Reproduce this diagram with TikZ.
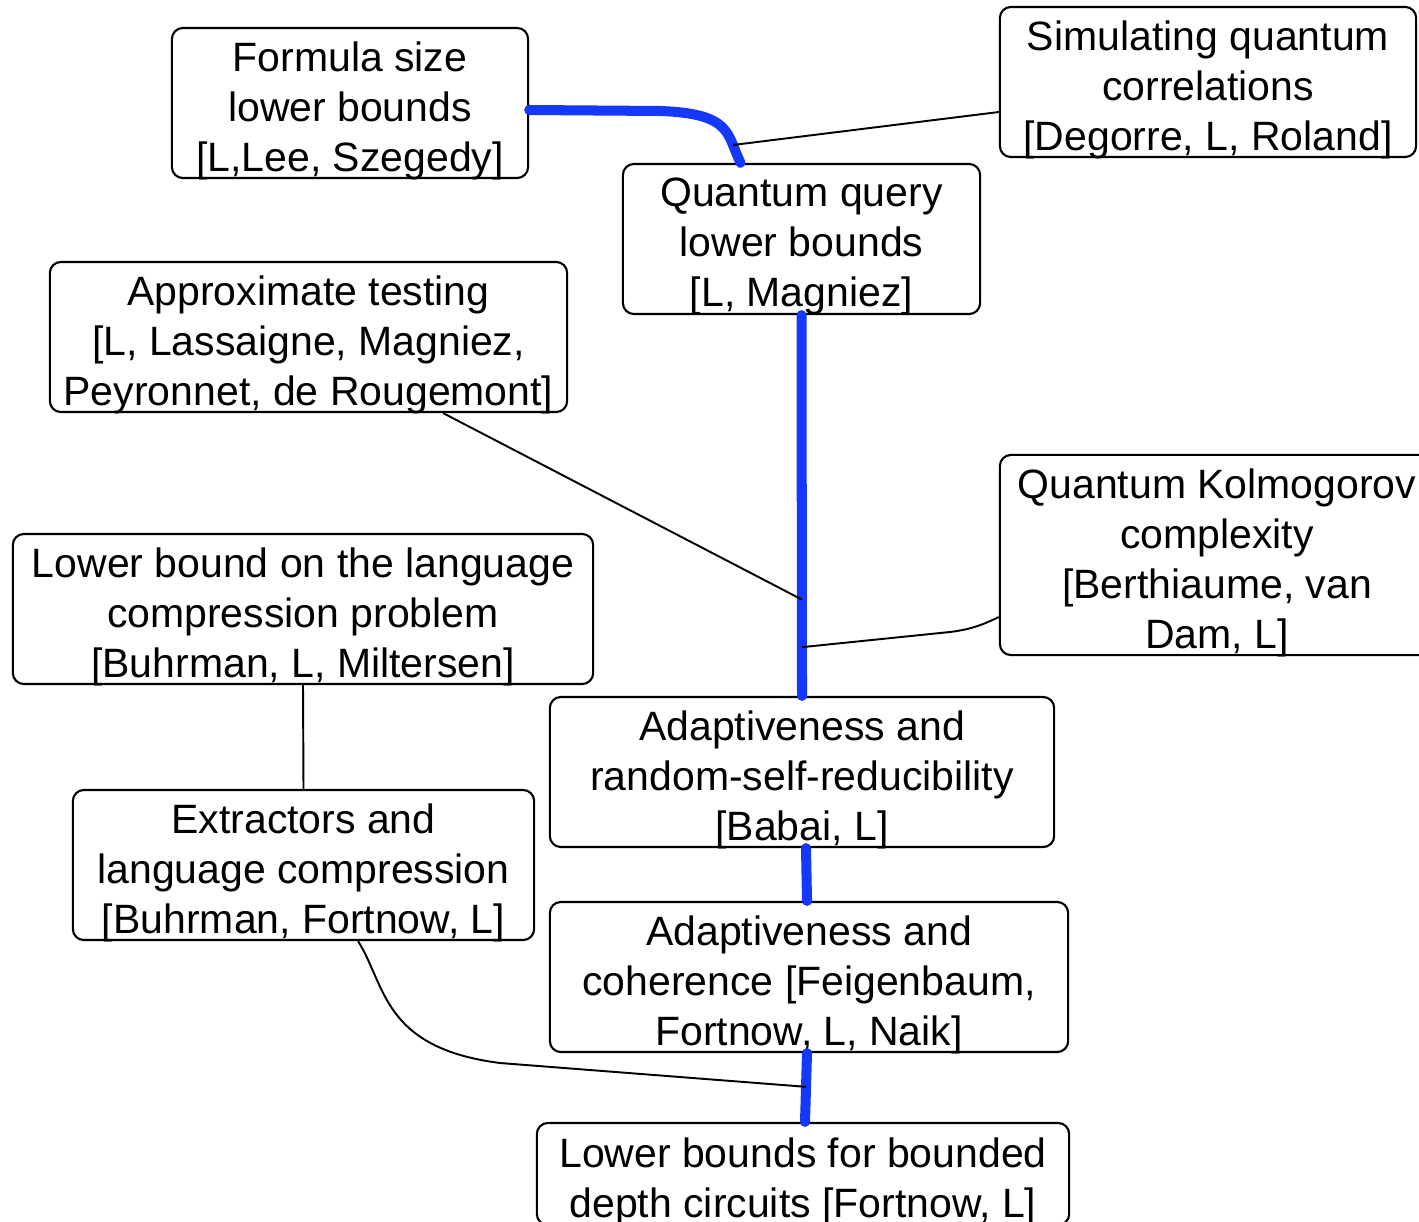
\documentclass[tikz,border=0pt]{standalone}
\usepackage{fontspec}
\setmainfont{Liberation Sans}
\definecolor{linkblue}{RGB}{22,56,250}
\tikzset{
  card/.style n args={2}{draw, line width=0.6pt, rounded corners=0.11cm,
    minimum width=#1, minimum height=#2, inner sep=0pt},
  txt/.style={align=center, inner sep=0pt,
    font=\fontsize{11.65}{14.23}\selectfont, yshift=-0.075cm},
  thin/.style={line width=0.55pt},
  hot/.style={draw=linkblue, line width=2.85pt, line cap=round},
}
\begin{document}
\begin{tikzpicture}[x=0.01cm, y=-0.01cm]
\clip (0,0) rectangle (1419,1222);

% boxes
\node[card={3.56cm}{1.5cm}] (fsz) at (350,103) {};
\node[txt] (fsz-t) at (fsz.center) {Formula size\\lower bounds\\{}[L,Lee, Szegedy]};

\node[card={4.16cm}{1.5cm}] (sqc) at (1208,82) {};
\node[txt] (sqc-t) at (sqc.center) {Simulating quantum\\correlations\\{}[Degorre, L, Roland]};

\node[card={3.57cm}{1.5cm}] (qql) at (801.5,239) {};
\node[txt] (qql-t) at (qql.center) {Quantum query\\lower bounds\\{}[L, Magniez]};

\node[card={5.17cm}{1.5cm}] (apt) at (308.5,337) {};
\node[txt] (apt-t) at (apt.center) {Approximate testing\\{}[L, Lassaigne, Magniez,\\Peyronnet, de Rougemont]};

\node[card={4.34cm}{2.0cm}] (qkc) at (1217,555) {};
\node[txt] (qkc-t) at (qkc.center) {Quantum Kolmogorov\\complexity\\{}[Berthiaume, van\\Dam, L]};

\node[card={5.80cm}{1.5cm}] (lbl) at (303,609) {};
\node[txt] (lbl-t) at (lbl.center) {Lower bound on the language\\compression problem\\{}[Buhrman, L, Miltersen]};

\node[card={5.04cm}{1.5cm}] (arl) at (802,772) {};
\node[txt] (arl-t) at (arl.center) {Adaptiveness and\\random-self-reducibility\\{}[Babai, L]};

\node[card={4.61cm}{1.5cm}] (ext) at (303.5,865) {};
\node[txt] (ext-t) at (ext.center) {Extractors and\\language compression\\{}[Buhrman, Fortnow, L]};

\node[card={5.18cm}{1.5cm}] (coh) at (809,977) {};
\node[txt] (coh-t) at (coh.center) {Adaptiveness and\\coherence [Feigenbaum,\\Fortnow, L, Naik]};

\node[card={5.32cm}{1.02cm}] (ldc) at (803,1174) {};
\node[txt] (ldc-t) at (ldc.center) {Lower bounds for bounded\\depth circuits [Fortnow, L]};

% main (blue) links
\draw[hot] ([yshift=-0.07cm]fsz.east) -- (660,111)
  .. controls (715,113) and (725,125) .. (733,145) coordinate (j0)
  .. controls (737,155) .. ([xshift=-0.61cm]qql.north);
\draw[hot] (qql.south) -- coordinate[pos=0.747] (j1) coordinate[pos=0.872] (j2) (arl.north);
\draw[hot] ([xshift=0.04cm]arl.south) -- ([xshift=-0.02cm]coh.north);
\draw[hot] ([xshift=-0.02cm]coh.south) -- coordinate[pos=0.49] (j3) ([xshift=0.02cm]ldc.north);

% side (thin) links
\draw[thin] ([yshift=-0.30cm]sqc.west) -- (j0);
\draw[thin] ([xshift=1.345cm]apt.south) -- (j1);
\draw[thin] (j2) -- (950,632) .. controls (975,629) and (988,622) .. ([yshift=-0.62cm]qkc.west);
\draw[thin] (lbl.south) -- (ext.north);
\draw[thin] ([xshift=0.545cm]ext.south) .. controls (386,985) and (382,1048) .. (500,1063) -- (j3);
\end{tikzpicture}
\end{document}
